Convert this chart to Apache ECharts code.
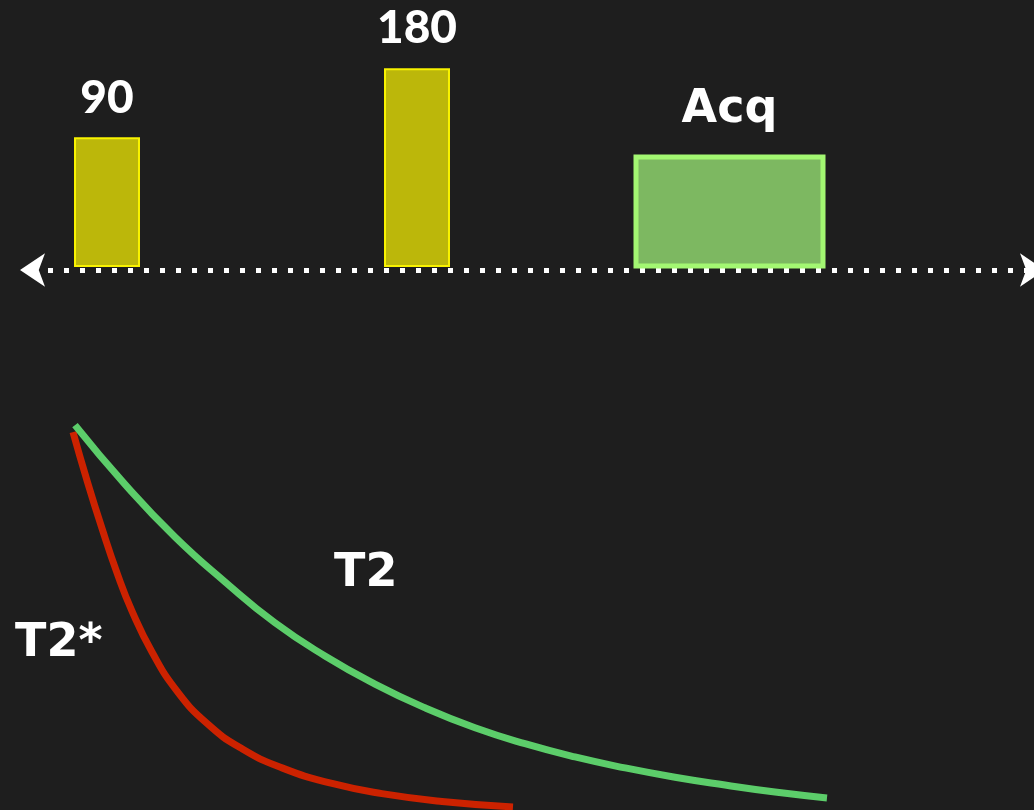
<!DOCTYPE html>
<html>
<head>
<meta charset="utf-8">
<script src="https://cdn.jsdelivr.net/npm/echarts@6/dist/echarts.min.js"></script>
<style>
html,body{margin:0;padding:0;background:#1e1e1e;}
#chart{width:1034px;height:810px;}
</style>
</head>
<body>
<div id="chart"></div>
<script>
// Pulse sequence (time units 0..100)
const pulseNames = ['90', '180', 'Acq'];
const pulseStart = [4.3, 35.3, 60.4];
const pulseEnd = [10.7, 41.7, 79.1];
const pulseHeight = [0.48, 0.74, 0.41];

// Decay curves (time, relative signal)
const t2Time = [4.3, 9.3, 14.3, 19.3, 24.3, 29.3, 34.3, 39.3, 44.3, 49.3, 54.3, 59.3, 64.3, 69.3, 74.3, 79.5];
const t2Signal = [0.987, 0.835, 0.700, 0.585, 0.480, 0.395, 0.323, 0.262, 0.211, 0.170, 0.136, 0.108, 0.084, 0.064, 0.046, 0.031];
const t2sTime = [4.1, 5.5, 7.0, 8.5, 10.0, 12.0, 14.5, 17.5, 21.0, 25.0, 30.0, 35.0, 41.0, 48.1];
const t2sSignal = [0.969, 0.845, 0.722, 0.608, 0.510, 0.405, 0.305, 0.222, 0.157, 0.108, 0.068, 0.042, 0.022, 0.008];

const curveLabels = ['T2', 'T2*'];

const chart = echarts.init(document.getElementById('chart'));

const pulseData = pulseNames.map((n, i) => [pulseStart[i], pulseEnd[i], pulseHeight[i], n]);
const pulseFill = ['#bcb70a', '#bcb70a', '#7db861'];
const pulseBorder = ['#f8f200', '#f8f200', '#a3f772'];
const pulseBorderW = [2, 2, 5];
const labelFont = ['900 46px "Lato"', '900 46px "Lato"', 'bold 46px "DejaVu Sans"'];
const labelDist = [16, 17, 21];

chart.setOption({
  backgroundColor: '#1e1e1e',
  animation: false,
  grid: [
    {left: 32, right: 2, top: 0, bottom: 540},
    {left: 32, right: 2, top: 420, bottom: 0}
  ],
  xAxis: [
    {
      gridIndex: 0, type: 'value', min: 0, max: 100,
      axisLine: {
        show: true, onZero: false,
        symbol: ['arrow', 'arrow'], symbolSize: [25, 25], symbolOffset: [-12, 13],
        lineStyle: {color: '#ffffff', width: 5, type: [5, 11], cap: 'butt'}
      },
      axisTick: {show: false}, axisLabel: {show: false}, splitLine: {show: false}
    },
    {
      gridIndex: 1, type: 'value', min: 0, max: 100, show: false
    }
  ],
  yAxis: [
    {gridIndex: 0, type: 'value', min: -0.015, max: 1, show: false},
    {gridIndex: 1, type: 'value', min: 0, max: 1, show: false}
  ],
  series: [
    {
      type: 'custom',
      xAxisIndex: 0, yAxisIndex: 0,
      data: pulseData,
      renderItem: function (params, api) {
        const i = params.dataIndex;
        const p0 = api.coord([api.value(0), 0]);
        const p1 = api.coord([api.value(1), api.value(2)]);
        return {
          type: 'rect',
          shape: {x: p0[0], y: p1[1], width: p1[0] - p0[0], height: p0[1] - p1[1]},
          style: {fill: pulseFill[i], stroke: pulseBorder[i], lineWidth: pulseBorderW[i]},
          textContent: {
            style: {text: pulseNames[i], fill: '#ffffff', font: labelFont[i]}
          },
          textConfig: {position: 'top', distance: labelDist[i]}
        };
      }
    },
    {
      type: 'line', xAxisIndex: 1, yAxisIndex: 1,
      data: t2sTime.map((t, i) => [t, t2sSignal[i]]),
      smooth: 0.5, showSymbol: false, symbol: 'none',
      lineStyle: {color: '#cc2200', width: 7, cap: 'butt'}
    },
    {
      type: 'line', xAxisIndex: 1, yAxisIndex: 1,
      data: t2Time.map((t, i) => [t, t2Signal[i]]),
      smooth: 0.5, showSymbol: false, symbol: 'none',
      lineStyle: {color: '#5ccd6a', width: 7, cap: 'butt'}
    }
  ],
  graphic: [
    {type: 'text', left: 334, top: 551,
     style: {text: curveLabels[0], fill: '#ffffff', font: 'bold 46px "DejaVu Sans"'}},
    {type: 'text', left: 15, top: 621,
     style: {text: curveLabels[1], fill: '#ffffff', font: 'bold 46px "DejaVu Sans"'}}
  ]
});
</script>
</body>
</html>
